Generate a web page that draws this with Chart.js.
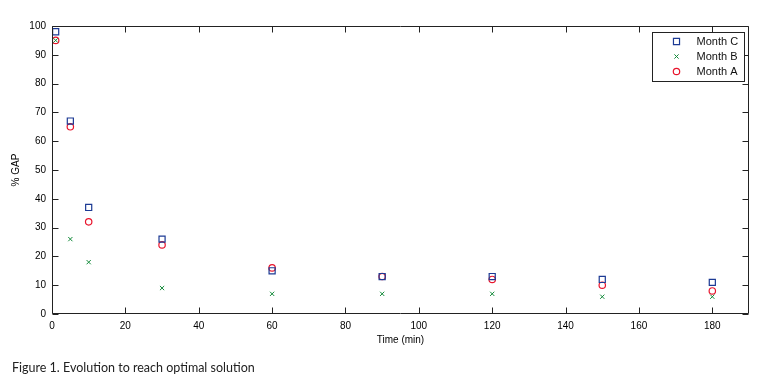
<!DOCTYPE html>
<html>
<head>
<meta charset="utf-8">
<script src="https://cdn.jsdelivr.net/npm/chart.js@4"></script>
<style>
  html, body { margin: 0; padding: 0; background: #fff; }
  #wrap { position: relative; width: 759px; height: 386px; }
  #c { position: absolute; left: 0; top: 0; }
  #caption { position: absolute; left: 12px; top: 360px; font-family: Lato, "Open Sans", sans-serif; font-size: 12.5px; color: #222; white-space: nowrap; }
</style>
</head>
<body>
<div id="wrap">
  <canvas id="c" width="759" height="386"></canvas>
  <div id="caption">Figure 1. Evolution to reach optimal solution</div>
</div>
<script>
const times = [1, 5, 10, 30, 60, 90, 120, 150, 180];
const monthC = [98, 67, 37, 26, 15, 13, 13, 12, 11];
const monthB = [95, 26, 18, 9, 7, 7, 7, 6, 6];
const monthA = [95, 65, 32, 24, 16, 13, 12, 10, 8];
const seriesLabels = ['Month C', 'Month B', 'Month A'];
const xTitle = 'Time (min)';
const yTitle = '% GAP';

function pts(vals) { return times.map((t, i) => ({ x: t, y: vals[i] })); }

const colC = '#1c3a94';
const colB = '#138a3a';
const colA = '#e8142c';
const fontFam = '"Liberation Sans", Arial, Helvetica, sans-serif';

const frame = {
  id: 'frame',
  afterDraw(chart) {
    const ctx = chart.ctx;
    const a = chart.chartArea;
    const xs = chart.scales.x, ys = chart.scales.y;
    const L = Math.round(a.left) + 0.5, R = Math.round(a.right) - 0.5;
    const T = Math.round(a.top) + 0.5, B = Math.round(a.bottom) - 0.5;
    ctx.save();
    ctx.strokeStyle = '#222';
    ctx.lineWidth = 1;
    ctx.beginPath();
    ctx.rect(L, T, R - L, B - T);
    const tl = 6;
    xs.ticks.forEach(t => {
      const px = Math.round(xs.getPixelForValue(t.value)) + 0.5;
      ctx.moveTo(px, B); ctx.lineTo(px, B - tl);
      ctx.moveTo(px, T); ctx.lineTo(px, T + tl);
    });
    ys.ticks.forEach(t => {
      const py = Math.round(ys.getPixelForValue(t.value)) + 0.5;
      ctx.moveTo(L, py); ctx.lineTo(L + tl, py);
      ctx.moveTo(R, py); ctx.lineTo(R - tl, py);
    });
    ctx.stroke();

    // legend box
    const bw = 92, bh = 49;
    const bx = Math.round(a.right) - 5 - bw + 0.5, by = Math.round(a.top) + 6 + 0.5;
    ctx.fillStyle = '#fff';
    ctx.fillRect(bx, by, bw, bh);
    ctx.strokeStyle = '#222';
    ctx.strokeRect(bx, by, bw, bh);
    ctx.font = '11px ' + fontFam;
    ctx.textBaseline = 'middle';
    ctx.textAlign = 'left';
    chart.data.datasets.forEach((ds, i) => {
      const cy = by + 9 + i * 15;
      ctx.strokeStyle = ds.borderColor;
      ctx.fillStyle = 'rgba(0,0,0,0)';
      ctx.lineWidth = ds.borderWidth;
      Chart.helpers.drawPoint(ctx, { pointStyle: ds.pointStyle, radius: ds.pointRadius, rotation: 0, borderWidth: ds.borderWidth }, bx + 24, cy);
      ctx.fillStyle = '#111';
      ctx.fillText(ds.label, bx + 44, cy);
    });
    ctx.restore();
  }
};

new Chart(document.getElementById('c'), {
  type: 'scatter',
  data: {
    datasets: [
      { label: seriesLabels[0], data: pts(monthC), pointStyle: 'rect', pointRadius: 4.3, borderColor: colC, backgroundColor: 'rgba(0,0,0,0)', borderWidth: 1.2, pointHoverRadius: 4.3 },
      { label: seriesLabels[1], data: pts(monthB), pointStyle: 'crossRot', pointRadius: 3, borderColor: colB, backgroundColor: 'rgba(0,0,0,0)', borderWidth: 1, pointHoverRadius: 3 },
      { label: seriesLabels[2], data: pts(monthA), pointStyle: 'circle', pointRadius: 3.2, borderColor: colA, backgroundColor: 'rgba(0,0,0,0)', borderWidth: 1.2, pointHoverRadius: 3.2 }
    ]
  },
  options: {
    responsive: false,
    animation: false,
    events: [],
    layout: { padding: { top: 26, right: 10, left: 0, bottom: 0 } },
    plugins: { legend: { display: false }, tooltip: { enabled: false } },
    scales: {
      x: {
        type: 'linear', min: 0, max: 190,
        grid: { display: false, drawTicks: false },
        border: { display: false },
        ticks: { stepSize: 20, includeBounds: false, padding: 6, color: '#000', font: { family: fontFam, size: 10 } },
        title: { display: true, text: xTitle, color: '#000', font: { family: fontFam, size: 10 }, padding: { top: 0, bottom: 40 } },
        afterFit(s) { s.height = 72; }
      },
      y: {
        type: 'linear', min: 0, max: 100,
        grid: { display: false, drawTicks: false },
        border: { display: false },
        ticks: { stepSize: 10, padding: 6, color: '#000', font: { family: fontFam, size: 10 } },
        title: { display: true, text: yTitle, color: '#000', font: { family: fontFam, size: 10 }, padding: { top: 10, bottom: 0 } },
        afterFit(s) { s.width = 52; }
      }
    }
  },
  plugins: [frame]
});
</script>
</body>
</html>
